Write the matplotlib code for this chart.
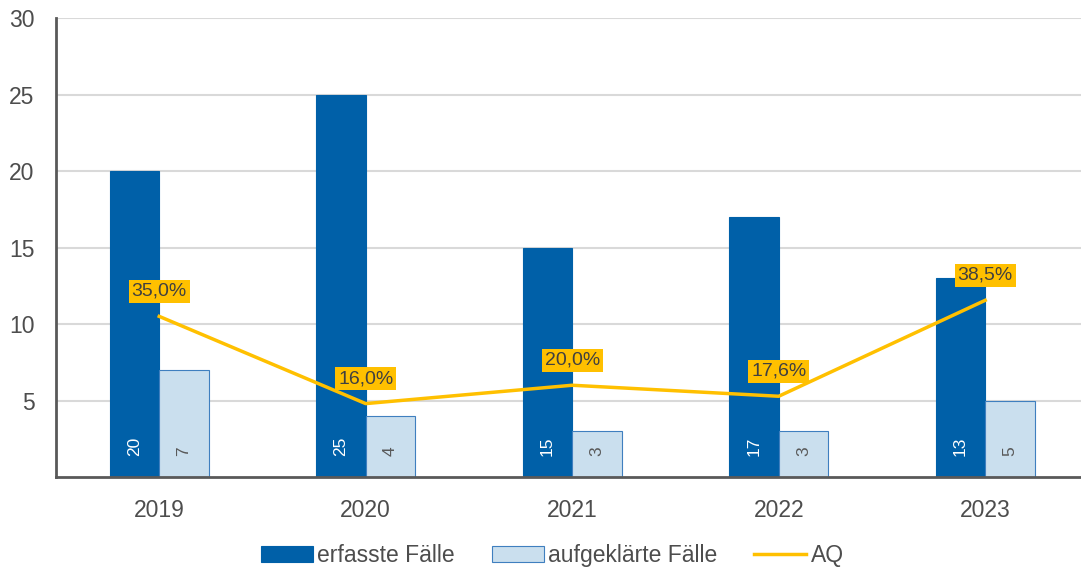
import matplotlib
matplotlib.use("Agg")
import matplotlib.pyplot as plt
import numpy as np

# Daten
years = ["2019", "2020", "2021", "2022", "2023"]
erfasst = [20, 25, 15, 17, 13]
aufgeklaert = [7, 4, 3, 3, 5]
aq = [35.0, 16.0, 20.0, 17.6, 38.5]

plt.rcParams['font.family'] = ['Liberation Sans', 'DejaVu Sans']

dark = '#0060A8'
light = '#CADFEE'
light_edge = '#3F7FBF'
yellow = '#FFC000'
grey = '#595959'
text_col = '#4D4D4D'

fig = plt.figure(figsize=(10.81, 5.72), dpi=100)
ax = fig.add_axes([0.0518, 0.166, 0.9482, 0.8025])

x = np.arange(len(years))
w = 0.24

b1 = ax.bar(x - w / 2, erfasst, w, color=dark, edgecolor=dark, linewidth=0.8,
            label='erfasste Fälle', zorder=2)
b2 = ax.bar(x + w / 2, aufgeklaert, w, color=light, edgecolor=light_edge, linewidth=0.8,
            label='aufgeklärte Fälle', zorder=2)

# Werte in den Balken (gedreht)
for xi, v in zip(x - w / 2, erfasst):
    ax.annotate(str(v), (xi, 0), xytext=(0, 15.5), textcoords='offset points',
                rotation=90, ha='center', va='bottom', color='white', fontsize=12.5)
for xi, v in zip(x + w / 2, aufgeklaert):
    ax.annotate(str(v), (xi, 0), xytext=(0, 15.5), textcoords='offset points',
                rotation=90, ha='center', va='bottom', color=grey, fontsize=12.5)

ax.set_ylim(0, 30)
ax.set_xlim(-0.5, 4.464)
ax.set_yticks([5, 10, 15, 20, 25, 30])
ax.set_xticks(x)
ax.set_xticklabels(years)
ax.tick_params(axis='both', length=0, labelsize=16.5, colors=grey, labelcolor=text_col)
ax.tick_params(axis='x', pad=16)
ax.tick_params(axis='y', pad=15.5)
ax.yaxis.grid(True, color='#D9D9D9', linewidth=1.5, zorder=0)
ax.set_axisbelow(True)
for s in ['top', 'right']:
    ax.spines[s].set_visible(False)
ax.spines['left'].set_color(grey)
ax.spines['left'].set_linewidth(2)
ax.spines['bottom'].set_color(grey)
ax.spines['bottom'].set_linewidth(2)
ax.spines['bottom'].set_zorder(5)

# AQ auf Sekundärachse (0-100 %)
ax2 = ax.twinx()
ax2.set_ylim(0, 100)
ax2.set_axis_off()
line, = ax2.plot(x, aq, color=yellow, linewidth=2.5, label='AQ', zorder=3)
for xi, v in zip(x, aq):
    txt = f"{v:.1f}".replace('.', ',') + '%'
    ax2.annotate(txt, (xi, v), xytext=(0, 18), textcoords='offset points',
                 ha='center', va='center', fontsize=14, color='#404040',
                 bbox=dict(boxstyle='square,pad=0.15', fc=yellow, ec='none'))

handles = [b1, b2, line]
fig.legend(handles, [h.get_label() for h in handles], loc='center',
           bbox_to_anchor=(0.511, 0.028), ncol=3, frameon=False, fontsize=16.5,
           handlelength=2.27, handleheight=0.7, handletextpad=0.2,
           columnspacing=1.6, labelcolor=text_col)

fig.savefig('out.png', dpi=100)
